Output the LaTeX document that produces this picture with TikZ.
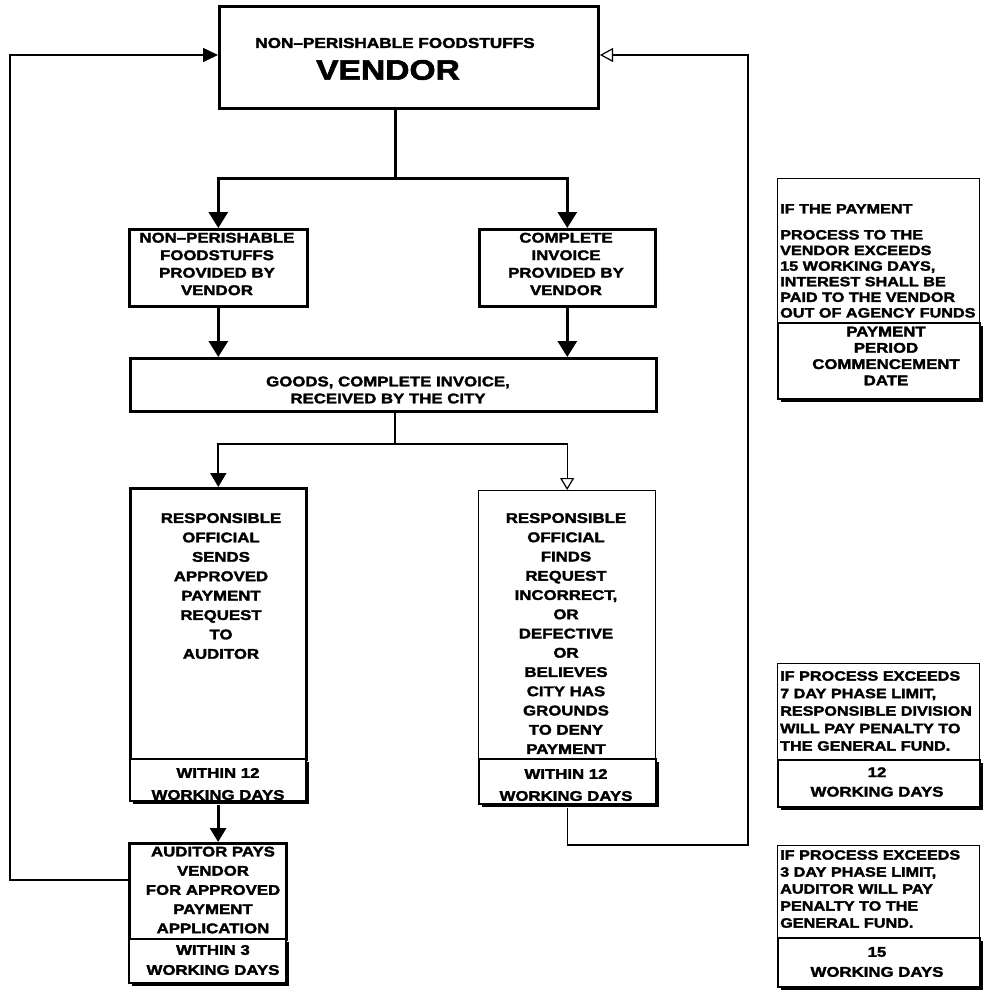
\documentclass[tikz,border=0pt]{standalone}
\usepackage{fontspec}
\setmainfont{Liberation Sans}[FakeStretch=1.2, BoldFeatures={FakeBold=2.2}]
\usetikzlibrary{arrows.meta,shadows}
\begin{document}
\begin{tikzpicture}[x=1pt,y=-1pt,
  boxT/.style={draw, line width=2.6pt, fill=white, inner sep=0pt, anchor=north west},
  thinboxT/.style={draw, line width=1.3pt, fill=white, inner sep=0pt, anchor=north west},
  sboxT/.style={boxT, line width=2.2pt, general shadow={fill=black, shadow xshift=3.2pt, shadow yshift=-3.2pt}},
  txt/.style={font=\bfseries\fontsize{14}{#1}\selectfont, align=center, inner sep=0pt},
  notetxt/.style={font=\bfseries\fontsize{13.5}{#1}\selectfont, align=left, inner sep=0pt, anchor=north west},
  bigA/.style={-{Triangle[width=19pt,length=16pt]}},
  midA/.style={-{Triangle[width=16pt,length=14pt]}},
  loopA/.style={-{Triangle[width=14pt,length=15pt]}},
  openA/.style={-{Triangle[open,width=14pt,length=13pt,line width=1.2pt]}},
  openB/.style={-{Triangle[open,width=14pt,length=12pt,line width=1.2pt]}},
  connT/.style={line width=3pt},
  connM/.style={line width=2pt},
]
\useasboundingbox (0,0) rectangle (983,994);

% ---------------- boxes ----------------
\node[boxT, line width=3pt, minimum width=379pt, minimum height=102pt] (vendor) at (218,5) {};
\node[boxT, minimum width=178pt, minimum height=77pt] (p1) at (128,228) {};
\node[boxT, minimum width=176pt, minimum height=77pt] (p2) at (478,228) {};
\node[boxT, minimum width=526pt, minimum height=53pt] (goods) at (129,357) {};
\node[boxT, minimum width=176pt, minimum height=271pt] (r1) at (129,487) {};
\node[sboxT, minimum width=176pt, minimum height=42pt] (r1w) at (129,758) {};
\node[thinboxT, minimum width=177pt, minimum height=268pt] (r2) at (478,490) {};
\node[sboxT, minimum width=177pt, minimum height=45pt] (r2w) at (478,758) {};
\node[boxT, minimum width=157pt, minimum height=96pt] (a1) at (128,842) {};
\node[sboxT, minimum width=157pt, minimum height=44pt] (a1w) at (128,938) {};

\node[thinboxT, minimum width=202pt, minimum height=144pt] (n1) at (777,178) {};
\node[sboxT, minimum width=202pt, minimum height=76pt] (n1w) at (777,322) {};
\node[thinboxT, minimum width=202pt, minimum height=96pt] (n2) at (777,663) {};
\node[sboxT, minimum width=202pt, minimum height=47pt] (n2w) at (777,759) {};
\node[thinboxT, minimum width=202pt, minimum height=92pt] (n3) at (777,845) {};
\node[sboxT, minimum width=202pt, minimum height=49pt] (n3w) at (777,937) {};

% ---------------- texts ----------------
\node[inner sep=0pt, font=\bfseries\fontsize{14.3}{17}\selectfont] (vt1) at (395,43) {NON–PERISHABLE FOODSTUFFS};
\node[inner sep=0pt, font=\bfseries\fontsize{28}{30}\selectfont] (vt2) at (388,70) {VENDOR};

\node[txt=17.5] (t1) at (217,264) {NON–PERISHABLE\\FOODSTUFFS\\PROVIDED BY\\VENDOR};
\node[txt=17.5] (t2) at (566,264) {COMPLETE\\INVOICE\\PROVIDED BY\\VENDOR};
\node[txt=17] (t3) at (388,390) {GOODS, COMPLETE INVOICE,\\RECEIVED BY THE CITY};
\node[txt=19.4] (t4) at (221,586) {RESPONSIBLE\\OFFICIAL\\SENDS\\APPROVED\\PAYMENT\\REQUEST\\TO\\AUDITOR};
\node[txt=22] (t5) at (218,784) {WITHIN 12\\WORKING DAYS};
\node[txt=19.25] (t6) at (566,633.5) {RESPONSIBLE\\OFFICIAL\\FINDS\\REQUEST\\INCORRECT,\\OR\\DEFECTIVE\\OR\\BELIEVES\\CITY HAS\\GROUNDS\\TO DENY\\PAYMENT};
\node[txt=22] (t7) at (566,785) {WITHIN 12\\WORKING DAYS};
\node[txt=19.2] (t8) at (213,890) {AUDITOR PAYS\\VENDOR\\FOR APPROVED\\PAYMENT\\APPLICATION};
\node[txt=20] (t9) at (213,960) {WITHIN 3\\WORKING DAYS};

\node[notetxt=15.6] (t10) at (780,204) {IF THE PAYMENT\\[10.4pt]PROCESS TO THE\\VENDOR EXCEEDS\\15 WORKING DAYS,\\INTEREST SHALL BE\\PAID TO THE VENDOR\\OUT OF AGENCY FUNDS};
\node[txt=16.3] (t11) at (886,356) {PAYMENT\\PERIOD\\COMMENCEMENT\\DATE};
\node[notetxt=17.5] (t12) at (780,671) {IF PROCESS EXCEEDS\\7 DAY PHASE LIMIT,\\RESPONSIBLE DIVISION\\WILL PAY PENALTY TO\\THE GENERAL FUND.};
\node[txt=19.5] (t13) at (877,782) {12\\WORKING DAYS};
\node[notetxt=17] (t14) at (780,850) {IF PROCESS EXCEEDS\\3 DAY PHASE LIMIT,\\AUDITOR WILL PAY\\PENALTY TO THE\\GENERAL FUND.};
\node[txt=20] (t15) at (877,962) {15\\WORKING DAYS};

% ---------------- connectors ----------------
\coordinate (j1) at (395,178);
\coordinate (j2) at (395,444);
\coordinate (L1) at (10,880);
\coordinate (L2) at (10,55);
\coordinate (R1) at (748,845);
\coordinate (R2) at (748,55);

\draw[connT] (j1 |- vendor.south) -- (j1);
\draw[connT, bigA] (j1) -| (p1.north);
\draw[connT, bigA] (j1) -| (p2.north);
\draw[connT, bigA] (p1.south) -- (p1.south |- goods.north);
\draw[connT, bigA] (p2.south) -- (p2.south |- goods.north);

\draw[connM] (j2 |- goods.south) -- (j2);
\draw[connM, midA] (j2) -| (r1.north);
\draw[line width=1.3pt, openB] (j2) -| (r2.north);

\draw[connT, midA] (r1w.south) ++(0,3) -- (r1w.south |- a1.north);

\draw[line width=1.6pt, loopA] (a1.north west |- L1) -- (L1) -- (L2) -- (L2 -| vendor.west);
\draw[line width=1.2pt, openA] (r2w.south) ++(0,3) |- (R1) -- (R2) -- (R2 -| vendor.east);
\end{tikzpicture}
\end{document}
